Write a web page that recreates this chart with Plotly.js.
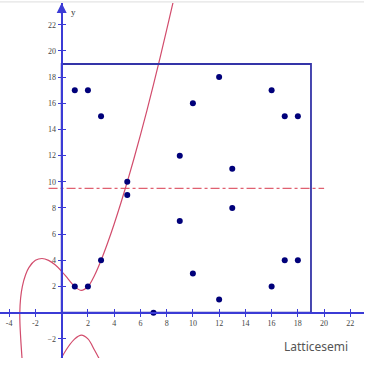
<!DOCTYPE html>
<html>
<head>
<meta charset="utf-8">
<script src="https://cdn.plot.ly/plotly-3.0.1.min.js"></script>
<style>html,body{margin:0;padding:0;background:#fff;}#chart{width:383px;height:366px;}</style>
</head>
<body>
<div id="chart"></div>
<script>
// Points of the curve over the finite field
const pointX = [1, 2, 3, 5, 5, 3, 1, 2, 7, 9, 9, 10, 10, 12, 12, 13, 13, 16, 16, 17, 18, 17, 18];
const pointY = [17, 17, 15, 10, 9, 4, 2, 2, 0, 12, 7, 16, 3, 18, 1, 11, 8, 17, 2, 15, 15, 4, 4];

const curveAX = [-3.02, -3.12, -3.18, -3.19, -3.13, -3.0, -2.75, -2.5, -2.0, -1.5, -1.0, -0.5, 0.0, 0.5, 1.0, 1.5, 2.0, 2.5, 3.0, 3.5, 4.0, 4.5, 5.0, 5.5, 6.0, 6.5, 7.0, 7.5, 8.0, 8.5, 8.7];
const curveAY = [-3.5, -2.0, -0.8, 0.0, 1.1, 2.0, 2.9, 3.45, 4.0, 4.14, 4.0, 3.66, 3.16, 2.57, 2.0, 1.7, 2.0, 2.85, 4.0, 5.33, 6.78, 8.34, 10.0, 11.74, 13.56, 15.46, 17.44, 19.48, 21.6, 23.76, 24.6];
// Real curve, lower right branch
const curveBX = [-0.05, 0.5, 1.0, 1.5, 2.0, 2.5, 2.85];
const curveBY = [-3.5, -2.6, -2.0, -1.72, -2.0, -2.85, -3.5];

// Field boundary box and symmetry line
const boxX = [0, 0, 19, 19, 0];
const boxY = [0, 19, 19, 0, 0];
const midX = [-1, 20];
const midY = [9.5, 9.5];

// Tick values
const xTicks = [-4, -2, 2, 4, 6, 8, 10, 12, 14, 16, 18, 20, 22];
const yTicks = [-2, 2, 4, 6, 8, 10, 12, 14, 16, 18, 20, 22];

const X_RANGE = [-4.70, 23.04];
const Y_RANGE = [-3.46, 23.66];
const yAxisPos = (0 - X_RANGE[0]) / (X_RANGE[1] - X_RANGE[0]);
const xAxisPos = (0 - Y_RANGE[0]) / (Y_RANGE[1] - Y_RANGE[0]);

const AXIS = '#3b3bd6';
const tickFont = {family: 'Liberation Serif, DejaVu Serif, serif', size: 8, color: '#444'};

const traces = [
  {x: midX, y: midY, mode: 'lines', line: {color: '#e06070', width: 1.2, dash: 'dashdot'}, hoverinfo: 'skip'},
  {x: curveAX, y: curveAY, mode: 'lines', line: {color: '#d24c6c', width: 1.2, shape: 'spline'}, hoverinfo: 'skip'},
  {x: curveBX, y: curveBY, mode: 'lines', line: {color: '#d24c6c', width: 1.2, shape: 'spline'}, hoverinfo: 'skip'},
  {x: boxX, y: boxY, mode: 'lines', line: {color: '#3434a8', width: 1.8}, hoverinfo: 'skip'},
  {x: pointX, y: pointY, mode: 'markers', marker: {color: '#00007a', size: 6}, hoverinfo: 'skip'},
  {x: [null], y: [null], xaxis: 'x2', yaxis: 'y2', mode: 'markers', hoverinfo: 'skip'}
];

const baseX = {range: X_RANGE, showgrid: false, zeroline: false, showline: true, linecolor: AXIS, linewidth: 2,
  tickmode: 'array', tickvals: xTicks, ticklen: 3, tickwidth: 1, tickcolor: AXIS, anchor: 'free', position: xAxisPos};
const baseY = {range: Y_RANGE, showgrid: false, zeroline: false, showline: true, linecolor: AXIS, linewidth: 2,
  tickmode: 'array', tickvals: yTicks, ticklen: 3, tickwidth: 1, tickcolor: AXIS, anchor: 'free', position: yAxisPos};

const layout = {
  width: 383, height: 366,
  margin: {l: 0, r: 19, t: 3, b: 8, pad: 0},
  paper_bgcolor: '#fff', plot_bgcolor: '#fff',
  showlegend: false,
  xaxis: Object.assign({}, baseX, {ticks: 'outside', showticklabels: true, tickfont: tickFont, ticktext: xTicks.map(String)}),
  yaxis: Object.assign({}, baseY, {ticks: 'outside', showticklabels: true, tickfont: tickFont}),
  xaxis2: Object.assign({}, baseX, {ticks: 'inside', showticklabels: false, overlaying: 'x', matches: 'x'}),
  yaxis2: Object.assign({}, baseY, {ticks: 'inside', showticklabels: false, overlaying: 'y', matches: 'y'}),
  shapes: [
    {type: 'line', xref: 'paper', yref: 'paper', x0: 0, x1: 1.0, y0: 1.003, y1: 1.003, line: {color: '#dddddd', width: 1}}
  ],
  annotations: [
    {x: 0, y: Y_RANGE[1], xref: 'x', yref: 'y', ax: 0, ay: 12, text: '', showarrow: true,
     arrowhead: 2, arrowsize: 1, arrowwidth: 2, arrowcolor: AXIS, standoff: 0},
    {x: 0.55, y: 23.0, xref: 'x', yref: 'y', text: 'y', showarrow: false, xanchor: 'left', yanchor: 'middle',
     font: {family: 'Liberation Serif, DejaVu Serif, serif', size: 9, color: '#333'}},
    {x: 0.775, y: 12 / 366 , xref: 'paper', yref: 'paper', text: 'Latticesemi', showarrow: false,
     xanchor: 'left', yanchor: 'middle', font: {family: 'Noto Sans, sans-serif', size: 12, color: '#555'}}
  ]
};

Plotly.newPlot('chart', traces, layout, {displayModeBar: false, staticPlot: true});
</script>
</body>
</html>
